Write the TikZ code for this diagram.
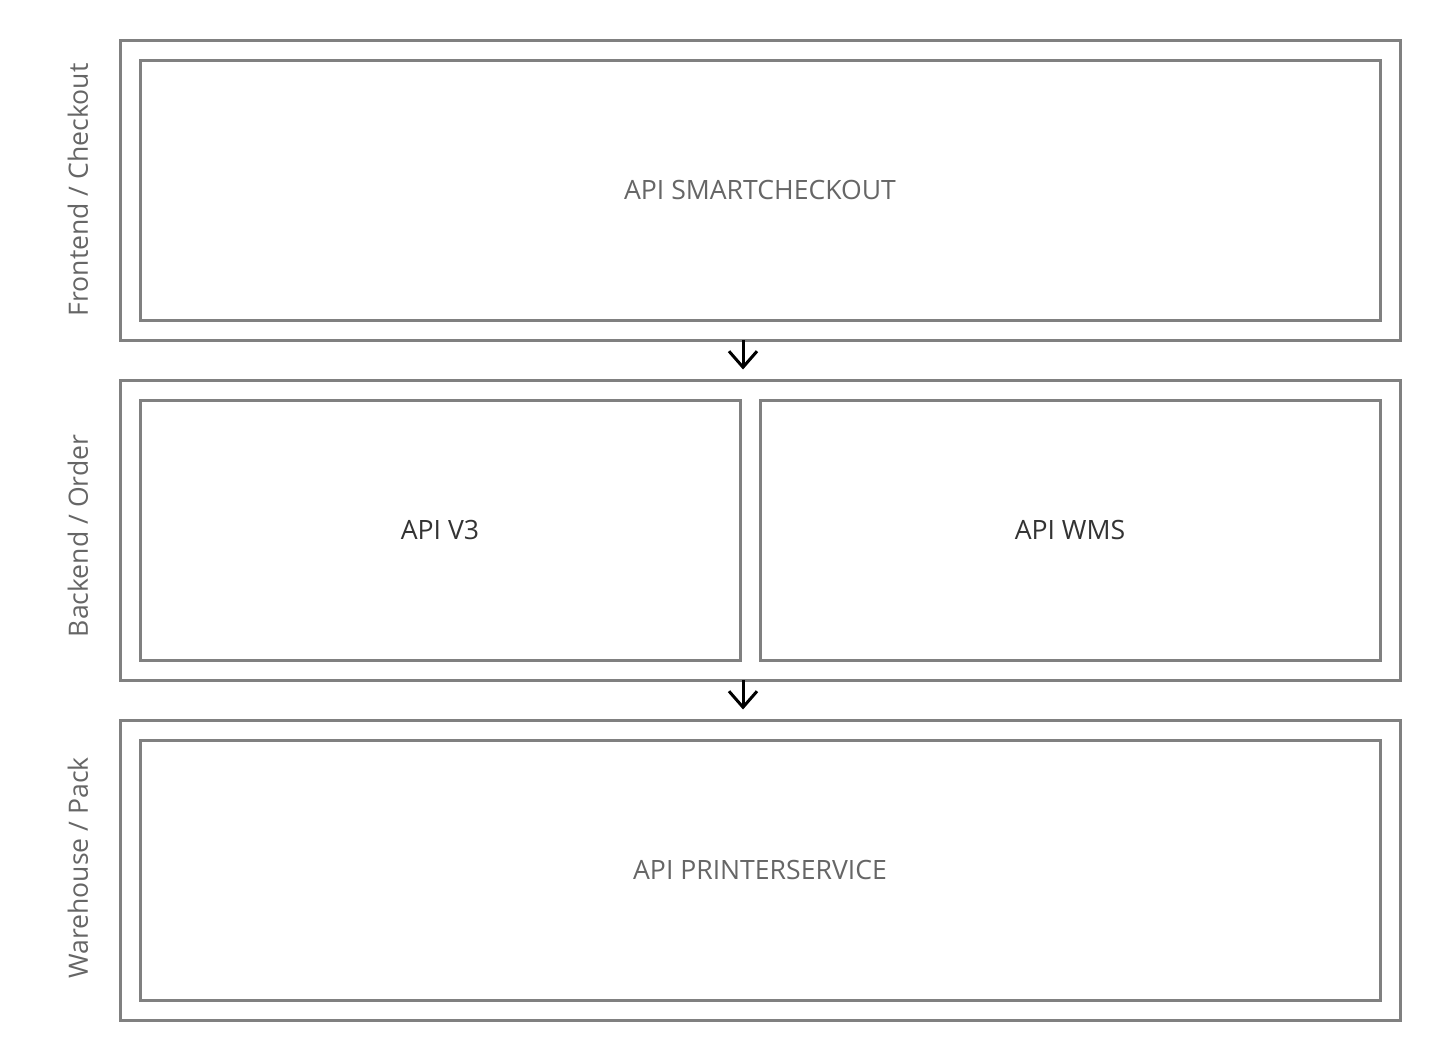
\documentclass[tikz,border=0pt]{standalone}
\usepackage{fontspec}
\setmainfont{Open Sans}
\usepackage{xcolor}
\usetikzlibrary{arrows.meta}
\definecolor{lanegray}{RGB}{128,128,128}
\definecolor{labelgray}{RGB}{102,102,102}
\definecolor{textdark}{RGB}{51,51,51}

\begin{document}
\begin{tikzpicture}[x=0.5pt, y=-0.5pt,
    lane/.style={draw=lanegray, line width=1.5pt, minimum width=640pt, minimum height=150pt, inner sep=0pt},
    service/.style={draw=lanegray, line width=1.5pt, minimum height=130pt, inner sep=0pt, font=\fontsize{13.3}{16}\selectfont},
    lanelabel/.style={labelgray, rotate=90, font=\fontsize{13.3}{16}\selectfont},
    flow/.style={-{Straight Barb[length=8pt, width=14pt]}, line width=1.5pt, black}]
    \useasboundingbox (0,0) rectangle (1440,1060);

    % Lanes
    \node[lane] (front) at (760,190) {};
    \node[lane] (back) at (760,530) {};
    \node[lane] (ware) at (760,870) {};

    % Lane titles
    \node[lanelabel] (frontlbl) at (78,190) {Frontend / Checkout};
    \node[lanelabel] (backlbl) at (78,536) {Backend / Order};
    \node[lanelabel] (warelbl) at (78,868) {Warehouse / Pack};

    % Services
    \node[service, text=labelgray, minimum width=620pt] (smart) at (760,190) {API SMARTCHECKOUT};
    \node[service, text=textdark, minimum width=300pt] (v3) at (440,530) {API V3};
    \node[service, text=textdark, minimum width=310pt] (wms) at (1070,530) {API WMS};
    \node[service, text=labelgray, minimum width=620pt] (printer) at (760,870) {API PRINTERSERVICE};

    % Flow between lanes
    \coordinate (a1) at (743,340);
    \coordinate (a2) at (743,680);
    \draw[flow, shorten >=4.5pt] (a1) -- (a1 |- back.north);
    \draw[flow, shorten >=4.5pt] (a2) -- (a2 |- ware.north);
\end{tikzpicture}
\end{document}
